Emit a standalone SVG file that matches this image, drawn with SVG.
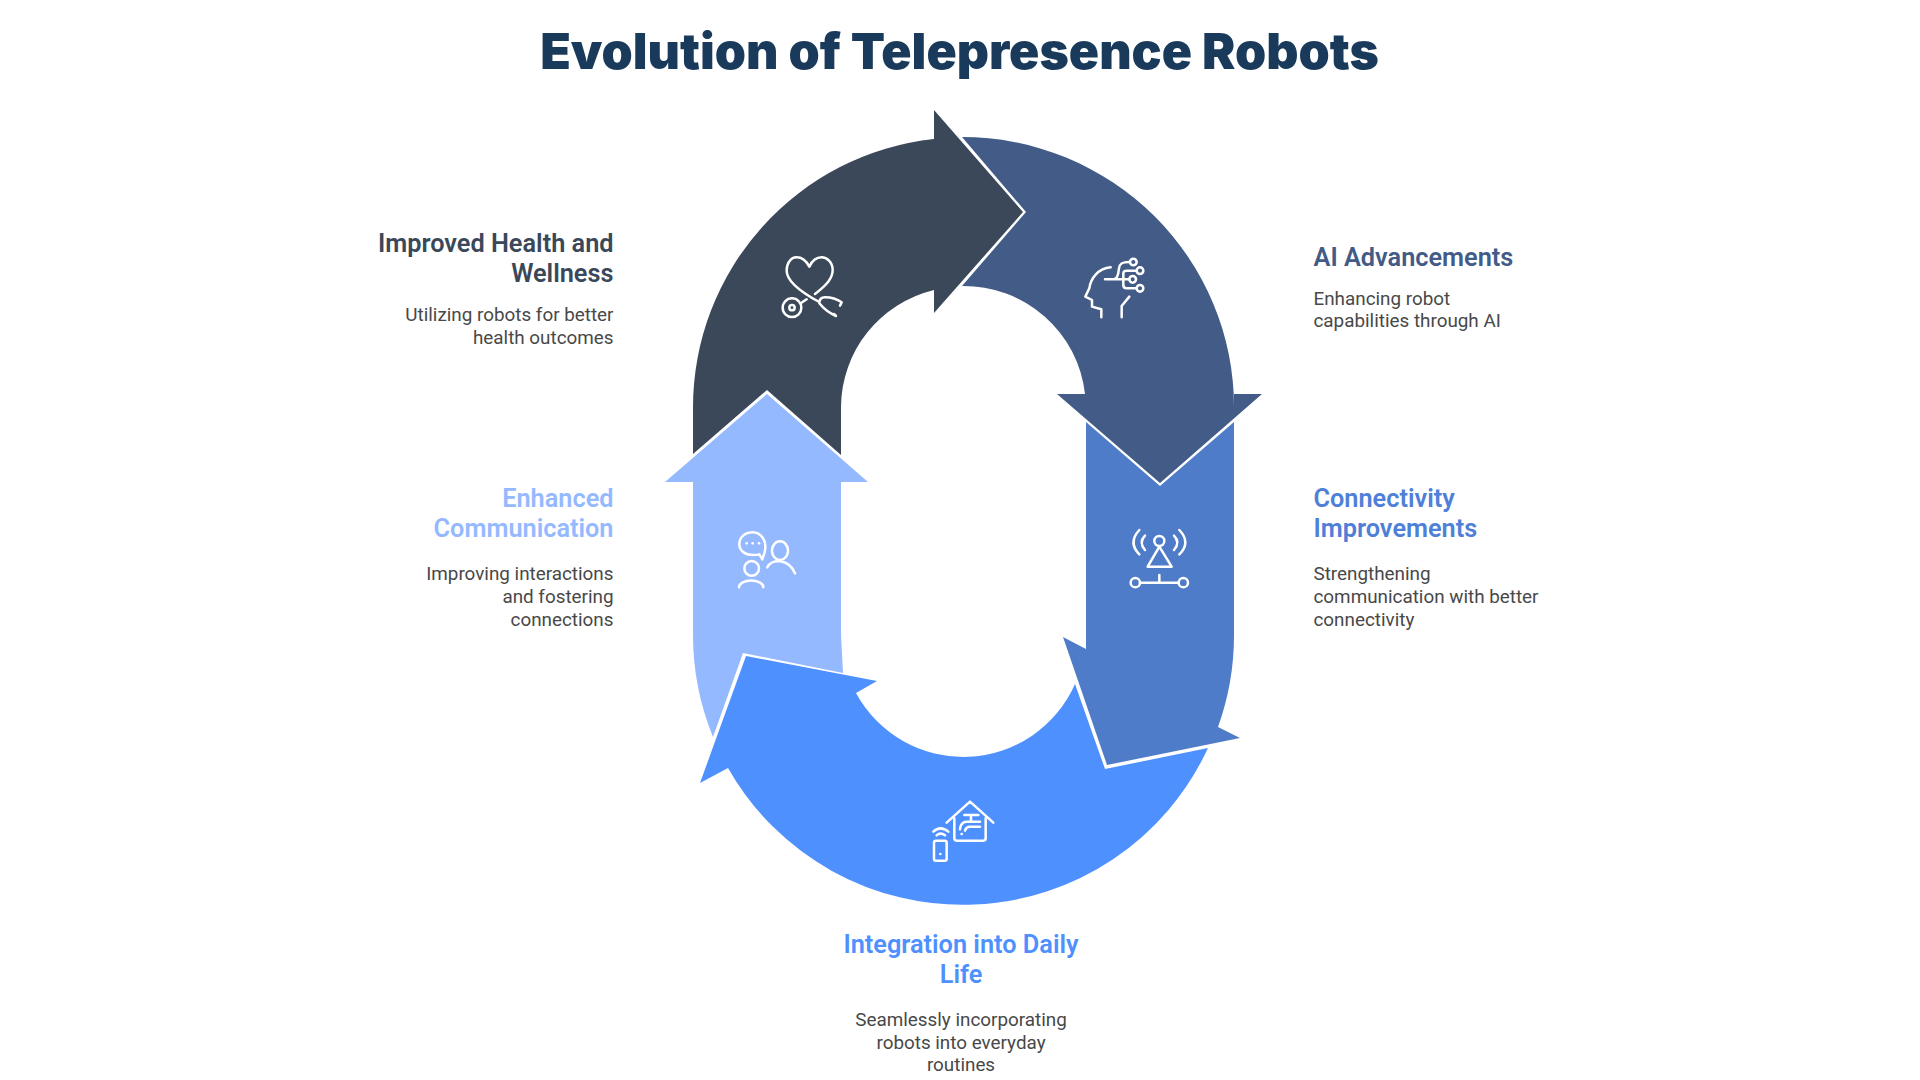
<svg xmlns="http://www.w3.org/2000/svg" width="1920" height="1080" viewBox="0 0 1920 1080">
<style>
text{font-family:Roboto,"Noto Sans",sans-serif}
.t{font-family:Inter,Roboto,sans-serif;font-size:50px;font-weight:900;fill:#1a3a5c;text-anchor:middle}
.h{font-size:25.3px;font-weight:600}
.b{font-size:18.85px;fill:#484848}
.e{text-anchor:end}.m{text-anchor:middle}
.i{fill:none;stroke:#fff;stroke-width:7.5;stroke-linecap:round;stroke-linejoin:round}
.d{fill:#fff;stroke:none}
</style>
<rect width="1920" height="1080" fill="#fff"/>
<text class="t" x="959.5" y="69">Evolution of Telepresence Robots</text>

<g id="ai-advancements">
<path fill="#425b87" d="M962 137A272 270 0 0 1 1234 407V394H1262L1160 483L1057 394H1085A122 121 0 0 0 962 286L1026 212Z"/>
<g class="i" transform="translate(1070 240) scale(.3333)">
<path d="M122 82C85 85 62 115 58 145L46 170L66 180V200L94 208V232M178 170L155 198V232M105 118H178M130 118C140 118 145 108 147 85C148 72 155 66 178 66M160 118V100Q160 92 170 92H200M160 118V135Q160 145 170 145H198"/>
<circle cx="190" cy="66" r="10"/><circle cx="210" cy="92" r="10"/><circle cx="188" cy="118" r="10"/><circle cx="210" cy="145" r="10"/>
</g>
<text class="h" fill="#425b87" x="1313.5" y="266">AI Advancements</text>
<text class="b" x="1313.5" y="305">Enhancing robot</text>
<text class="b" x="1313.5" y="327">capabilities through AI</text>
</g>

<g id="connectivity-improvements">
<path fill="#4f7cc9" d="M1086 422L1160 486L1234 422V635A271 270 0 0 1 1218 727L1240 738L1107 765L1063 637L1086 649Z"/>
<g class="i" transform="translate(1110 515) scale(.3333)">
<circle cx="148" cy="78" r="15"/><path d="M148 95L185 155H113ZM90 203H206M148 180V203M88 45C65 70 65 95 88 118M105 62C92 75 92 90 105 105M208 45C232 70 232 95 208 118M192 62C205 75 205 90 192 105"/>
<circle cx="76" cy="203" r="14"/><circle cx="220" cy="203" r="14"/>
</g>
<text class="h" fill="#4f80d8" x="1313.5" y="507">Connectivity</text>
<text class="h" fill="#4f80d8" x="1313.5" y="537">Improvements</text>
<text class="b" x="1313.5" y="580">Strengthening</text>
<text class="b" x="1313.5" y="603">communication with better</text>
<text class="b" x="1313.5" y="626">connectivity</text>
</g>

<g id="integration-daily-life">
<path fill="#4f90ff" d="M1075 684L1105 769L1208 748A270 270 0 0 1 728 768L700 783L746 656L877 681L856 693A122 122 0 0 0 1075 684Z"/>
<g class="i" transform="translate(915 790) scale(.3333)">
<path d="M95 98L165 35L235 98M118 85V145Q118 152 125 152H205Q212 152 212 145V85M148 75H190M168 75V93M195 95H155C140 95 135 110 135 118M195 110H165C155 110 152 115 150 122M55 125Q76 105 100 125M65 136Q76 126 90 136"/>
<rect x="57" y="152" width="38" height="60" rx="6"/>
<circle class="d" cx="140" cy="132" r="4"/><circle class="d" cx="76" cy="192" r="4"/>
</g>
<text class="h m" fill="#4f90ff" x="961" y="953">Integration into Daily</text>
<text class="h m" fill="#4f90ff" x="961" y="983">Life</text>
<text class="b m" x="961" y="1026">Seamlessly incorporating</text>
<text class="b m" x="961" y="1049">robots into everyday</text>
<text class="b m" x="961" y="1071">routines</text>
</g>

<g id="enhanced-communication">
<path fill="#94b9ff" d="M767 394L868 482H841V635L843 673L743 653L713 737A270 270 0 0 1 693 635V482H665Z"/>
<g class="i" transform="translate(725 520) scale(.3333)">
<path d="M118 100C130 60 105 37 83 37C60 37 43 52 43 72C43 92 60 105 83 105C90 105 98 105 103 103L112 118Z"/>
<ellipse cx="165" cy="92" rx="24" ry="28"/><path d="M127 142C140 115 190 115 210 160M42 202C42 175 115 175 115 202"/><circle cx="80" cy="145" r="22"/>
<circle class="d" cx="65" cy="70" r="4"/><circle class="d" cx="83" cy="70" r="4"/><circle class="d" cx="102" cy="70" r="4"/>
</g>
<text class="h e" fill="#94b9ff" x="613.5" y="507">Enhanced</text>
<text class="h e" fill="#94b9ff" x="613.5" y="537">Communication</text>
<text class="b e" x="613.5" y="580">Improving interactions</text>
<text class="b e" x="613.5" y="603">and fostering</text>
<text class="b e" x="613.5" y="626">connections</text>
</g>

<g id="improved-health">
<path fill="#3a485a" d="M693 454V407A270 270 0 0 1 934 139V110L1023 212L934 313V290A122 121 0 0 0 841 407V455L767 390Z"/>
<g class="i" transform="translate(760 240) scale(.3333)">
<path d="M165 162C200 135 218 115 218 90C218 65 200 52 185 52C168 52 155 65 148 80C140 65 128 52 110 52C92 52 80 70 80 92C80 125 130 160 178 186M178 190C178 180 182 172 195 172C215 172 232 178 245 187L240 197M178 190C190 205 205 218 228 228L222 222M122 190L140 178"/>
<circle cx="96" cy="203" r="28"/><circle cx="96" cy="203" r="8"/>
</g>
<text class="h e" fill="#3a485a" x="613.5" y="252">Improved Health and</text>
<text class="h e" fill="#3a485a" x="613.5" y="282">Wellness</text>
<text class="b e" x="613.5" y="321">Utilizing robots for better</text>
<text class="b e" x="613.5" y="344">health outcomes</text>
</g>
</svg>
